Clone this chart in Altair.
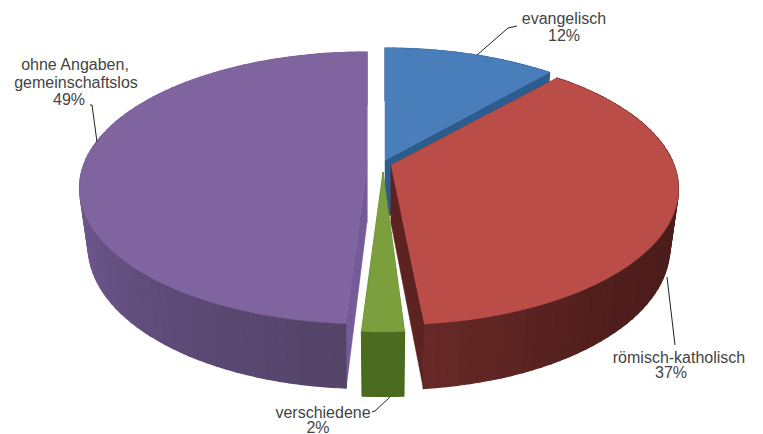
import math
import altair as alt

# Data
labels = ["evangelisch", "römisch-katholisch", "verschiedene", "ohne Angaben, gemeinschaftslos"]
shares = [12, 37, 2, 49]
# slice boundaries as drawn in the picture (degrees clockwise from top)
span_start = [0, 41.6, 176.4, 183.6]
span_end = [41.2, 174.4, 183.6, 360]
top_colors = ["#4a7ebb", "#bb4d48", "#7b9f3c", "#80649f"]
side_colors = ["#2d5c8f", "#4e1e1c", "#4a6b20", "#755c98"]
# slice apex position (explosion)
apex_x = [385, 391, 383, 367]
apex_y = [160, 165, 172, 164]
# outer-wall shade stops: (angle in degrees clockwise from top, colour)
wall_stops = {
    0: [(0, (45, 92, 143)), (43, (45, 92, 143))],
    1: [(41, (78, 30, 28)), (95, (74, 28, 26)), (140, (80, 30, 28)), (176, (104, 42, 40))],
    2: [(176, (74, 107, 32)), (184, (74, 107, 32))],
    3: [(184, (84, 68, 104)), (215, (92, 74, 118)), (250, (108, 86, 140)), (285, (122, 96, 158)), (360, (122, 96, 158))],
}

text_x = [564, 564, 75, 76, 69, 679, 671, 323, 318]
text_y = [19, 36, 65, 83, 100, 358, 373, 413, 428]
text_s = ["evangelisch", "12%", "ohne Angaben,", "gemeinschaftslos", "49%",
          "römisch-katholisch", "37%", "verschiedene", "2%"]
leaders = {
    "a": ([477, 508, 517], [55, 28, 26]),
    "b": ([97, 92, 90], [142, 105, 105]),
    "c": ([667, 675], [277, 345]),
    "d": ([390, 375, 372], [397, 411, 412]),
}

# view geometry
R, RT, K, H, M = 283, 131.7, 0.176, 60, 0.03


def pt(cx, cy, deg, r, z):
    a = math.radians(deg)
    u, v = math.sin(a) * r, -math.cos(a) * r
    w = 1 - K * v + M * z
    return [cx + R * u / w, cy + (RT * v + H * z) / w]


def shade(i, deg):
    st = wall_stops[i]
    for (a0, c0), (a1, c1) in zip(st, st[1:]):
        if a0 <= deg <= a1:
            t = (deg - a0) / (a1 - a0 or 1)
            c = [round(p + (q - p) * t) for p, q in zip(c0, c1)]
            return "#%02x%02x%02x" % tuple(c)
    return "#%02x%02x%02x" % st[-1][1]


def feat(points, fill, sw):
    return {"type": "Feature", "geometry": {"type": "Polygon", "coordinates": [points + [points[0]]]},
            "properties": {"fill": fill, "sw": sw}}


features = []
for i in [0, 3, 1, 2]:
    a0, a1 = span_start[i], span_end[i]
    cx, cy = apex_x[i], apex_y[i]
    # cut walls
    for ang in ([a1] if i == 0 else [a1, a0] if i == 1 else [a0, a1]):
        features.append(feat([pt(cx, cy, ang, 0, 0), pt(cx, cy, ang, 1, 0), pt(cx, cy, ang, 1, 1), pt(cx, cy, ang, 0, 1)],
                             side_colors[i] if i != 1 else "#5c2321", 0.5))
    # outer wall, back to front
    n = max(4, int((a1 - a0) / 2))
    steps = [(a0 + (a1 - a0) * j / n, a0 + (a1 - a0) * (j + 1) / n) for j in range(n)]
    steps.sort(key=lambda p: -math.cos(math.radians((p[0] + p[1]) / 2)))
    for b0, b1 in steps:
        features.append(feat([pt(cx, cy, b0, 1, 0), pt(cx, cy, b1, 1, 0), pt(cx, cy, b1, 1, 1), pt(cx, cy, b0, 1, 1)],
                             shade(i, (b0 + b1) / 2), 1.2))
    # top face
    poly = [pt(cx, cy, 0, 0, 0)] + [pt(cx, cy, a0 + (a1 - a0) * j / (2 * n), 1, 0) for j in range(2 * n + 1)]
    features.append(feat(poly, top_colors[i], 0.5))

W, Ht = 747, 426
pie = alt.Chart(alt.Data(values=features)).mark_geoshape().encode(
    color=alt.Color("properties.fill:N", scale=None, legend=None),
    stroke=alt.Stroke("properties.fill:N", scale=None, legend=None),
    strokeWidth=alt.StrokeWidth("properties.sw:Q", scale=None, legend=None),
).project(type="identity", scale=1, translate=[-8, -8])

xs = alt.Scale(domain=[8, 8 + W], range=[0, W])
ys = alt.Scale(domain=[8, 8 + Ht], range=[0, Ht])
line_rows = [{"k": k, "i": j, "x": x, "y": y} for k, (lx, ly) in leaders.items() for j, (x, y) in enumerate(zip(lx, ly))]
lines = alt.Chart(alt.Data(values=line_rows)).mark_line(color="#222222", strokeWidth=1).encode(
    x=alt.X("x:Q", scale=xs, axis=None), y=alt.Y("y:Q", scale=ys, axis=None),
    detail="k:N", order="i:Q")
text_rows = [{"x": x, "y": y, "s": s} for x, y, s in zip(text_x, text_y, text_s)]
texts = alt.Chart(alt.Data(values=text_rows)).mark_text(font="Liberation Sans", fontSize=16, color="#444444", align="center", baseline="middle").encode(
    x=alt.X("x:Q", scale=xs, axis=None), y=alt.Y("y:Q", scale=ys, axis=None), text="s:N")

chart = alt.layer(pie, lines, texts).resolve_scale(x="shared", y="shared").properties(
    width=W, height=Ht, padding=0).configure_view(stroke=None)
chart.save("out.html", embed_options={"renderer": "svg", "actions": False})
